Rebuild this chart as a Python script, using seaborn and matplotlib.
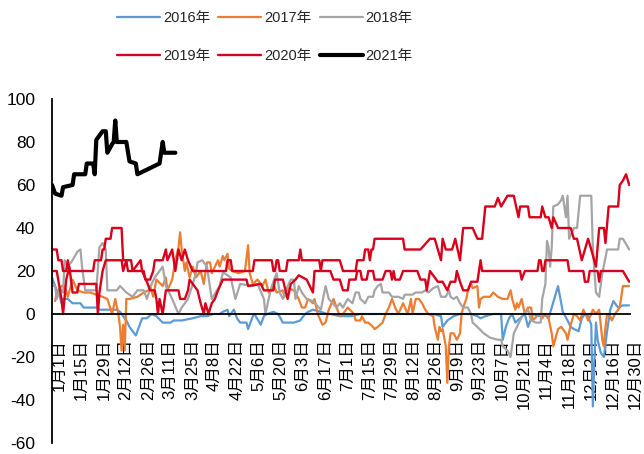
import matplotlib
matplotlib.use("Agg")
import matplotlib.pyplot as plt
import seaborn as sns
import pandas as pd

# ---------------- data (day of year, value) ----------------
tick_labels = ["1月1日", "1月15日", "1月29日", "2月12日", "2月26日", "3月11日", "3月25日",
               "4月8日", "4月22日", "5月6日", "5月20日", "6月3日", "6月17日", "7月1日",
               "7月15日", "7月29日", "8月12日", "8月26日", "9月9日", "9月23日", "10月7日",
               "10月21日", "11月4日", "11月18日", "12月2日", "12月16日", "12月30日"]
yticks = [-60, -40, -20, 0, 20, 40, 60, 80, 100]

d2016 = [0, 1, 3, 5, 6, 7, 10, 13, 18, 20, 29, 30, 41, 43, 45, 47, 49, 53, 54, 57, 60, 63, 66, 70,
         75, 77, 82, 89, 94, 98, 102, 106, 108, 111, 112, 115, 117, 119, 123, 124, 127, 128, 132,
         134, 136, 140, 143, 146, 151, 153, 157, 160, 162, 165, 170, 174, 176, 182, 189, 195, 201,
         212, 222, 233, 241, 246, 247, 250, 254, 258, 265, 269, 271, 274, 279, 284, 285, 287, 289,
         291, 293, 296, 299, 301, 303, 304, 308, 311, 314, 316, 320, 322, 323, 326, 328, 330, 333,
         335, 337, 339, 341, 342, 343, 344, 345, 347, 349, 350, 351, 353, 355, 358, 361, 365]
v2016 = [17, 15, 11, 8, 5, 7, 7, 5, 5, 3, 3, 2, 2, 1, -1, -3, -6, -10, -8, -2, -2, 0, -1, -4,
         -4, -3, -3, -2, -1, -1, 0, 0, 1, 2, -1, 2, -2, -4, -4, -7, -1, 0, -5,
         -1, 0, 1, 0, -4, -4, -4, -3, 0, 1, 2, 1, 0, 0, -1, -1, 0, 0,
         0, 0, 0, 0, -1, -6, -3, -1, 0, 0, -1, -2, -1, 0, 0, -12, -6, -2,
         0, -4, -2, 0, -6, -2, 0, -1, 0, -2, 3, 13, 5, 1, -3, -6, -7, -8,
         -2, 0, -1, -5, -43, -21, -4, -12, -18, -20, -14, -8, 2, 6, 3, 4, 4]

d2017 = [2, 3, 6, 8, 10, 13, 16, 20, 24, 28, 32, 35, 38, 40, 42, 43, 44, 45, 46, 47, 49, 54, 58,
         61, 62, 64, 66, 70, 72, 73, 76, 78, 80, 81, 82, 84, 85, 87, 89, 91, 94, 95, 96, 98, 100,
         101, 103, 105, 106, 108, 109, 111, 112, 114, 118, 122, 124, 125, 127, 130, 133, 135, 137,
         139, 140, 142, 146, 147, 149, 153, 156, 158, 160, 162, 165, 166, 168, 171, 173, 175, 178,
         180, 182, 184, 187, 191, 192, 195, 196, 198, 200, 203, 204, 206, 209, 211, 213, 215, 217,
         219, 222, 225, 227, 228, 230, 232, 234, 236, 238, 241, 242, 244, 245, 246, 247, 249, 250,
         251, 252, 254, 256, 258, 259, 260, 262, 263, 265, 266, 269, 270, 271, 273, 277, 279, 282,
         285, 288, 290, 291, 293, 294, 295, 297, 299, 301, 303, 304, 308, 310, 312, 314, 316, 317,
         320, 322, 325, 326, 328, 330, 332, 334, 336, 338, 339, 341, 342, 344, 346, 348, 349, 350,
         351, 353, 354, 356, 358, 359, 361, 365]
v2017 = [6, 10, 13, 13, 8, 16, 11, 10, 10, 9, 8, 7, 0, 7, 0, -6, -17, -5, -17, 7, 7, 8, 10,
         11, 13, 8, 16, 13, 17, 11, 16, 25, 31, 38, 30, 20, 24, 17, 22, 17, 20, 17, 14, 24, 24,
         19, 22, 25, 22, 27, 25, 28, 21, 20, 19, 20, 32, 19, 14, 16, 13, 16, 10,
         12, 14, 10, 11, 8, 12, 11, 7, 3, 3, 7, 5, 7, 0, -5, -4, 2, 7,
         3, -1, 0, 3, 0, -3, -3, -1, -4, -4, -6, -7, -6, -4, 0, 3, 7, 3,
         0, 5, 0, 7, 0, 7, 7, 5, 2, 0, -1, -6, -12, -6, -8, -7, -15, -32,
         -15, -9, -9, -12, -9, 0, 3, 7, 11, 14, 12, 13, 3, 7, 8, 8, 10, 8,
         7, 7, 11, 7, 2, 5, 3, 7, 0, 3, 3, -3, 0, -2, 0, -2, -9, -15,
         -7, -6, -9, -12, -5, 0, -1, -3, 2, -1, -3, 0, 2, 0, 2, -12, -15, -6,
         0, -1, -3, 0, 2, 3, 13, 13]

d2018 = [0, 2, 3, 5, 7, 8, 10, 13, 16, 18, 19, 21, 28, 30, 32, 34, 35, 41, 43, 47, 51, 54, 58, 60,
         63, 65, 67, 70, 72, 76, 80, 82, 86, 89, 91, 92, 95, 98, 101, 106, 108, 109, 113, 116, 119,
         127, 130, 134, 135, 137, 139, 142, 144, 146, 149, 151, 153, 154, 156, 158, 161, 165, 170,
         173, 175, 180, 182, 184, 187, 190, 192, 194, 195, 198, 200, 203, 204, 206, 208, 209, 213,
         215, 219, 222, 223, 228, 230, 234, 236, 238, 241, 244, 246, 249, 251, 252, 254, 256, 258,
         260, 263, 265, 266, 269, 273, 277, 282, 284, 285, 288, 290, 292, 294, 296, 298, 301, 303,
         306, 309, 310, 312, 313, 314, 315, 316, 317, 320, 322, 323, 325, 326, 327, 330, 332, 334,
         341, 342, 343, 344, 346, 348, 351, 354, 358, 359, 361, 365]
v2018 = [13, 13, 7, 12, 10, 25, 22, 25, 29, 30, 22, 11, 11, 31, 33, 30, 11, 11, 13, 10, 8, 11, 11, 7,
         14, 17, 19, 22, 13, 7, 0, 3, 7, 14, 19, 24, 25, 22, 7, 13, 19, 19, 17, 7, 14,
         13, 14, 7, 0, 7, 13, 19, 10, 7, 13, 16, 16, 7, 13, 10, 7, 6, 2,
         13, 7, 3, 5, 3, 7, 5, 10, 10, 7, 5, 8, 8, 11, 13, 14, 10, 10,
         8, 8, 7, 9, 9, 10, 10, 11, 10, 12, 13, 8, 8, 11, 8, 7, 8, 5,
         3, 3, 0, -4, -6, -9, -11, -12, -12, -15, -17, -20, -9, -6, -3, 0, 2, -3,
         -4, -4, 7, 14, 34, 31, 22, 31, 50, 51, 53, 55, 45, 55, 35, 40, 40, 55,
         55, 31, 20, 10, 8, 19, 30, 30, 30, 35, 35, 30]

d2019 = [0, 3, 4, 6, 7, 9, 10, 11, 26, 27, 31, 32, 33, 34, 37, 38, 44, 45, 47, 48, 58, 59, 62, 64,
         65, 70, 72, 73, 76, 78, 80, 82, 84, 86, 89, 110, 111, 113, 114, 127, 128, 139, 140, 141,
         142, 143, 144, 148, 149, 156, 157, 158, 169, 170, 171, 182, 184, 192, 193, 197, 198, 200,
         201, 202, 203, 204, 222, 223, 233, 239, 242, 246, 247, 249, 253, 255, 258, 260, 266, 269,
         272, 274, 280, 282, 284, 288, 292, 295, 296, 301, 302, 309, 310, 312, 314, 316, 317, 320,
         328, 330, 332, 335, 339, 341, 344, 346, 349, 350, 352, 358, 359, 361, 363, 365]
v2019 = [30, 30, 25, 25, 20, 20, 25, 20, 20, 25, 25, 30, 30, 35, 35, 40, 40, 25, 25, 20, 20, 16, 16, 20,
         25, 25, 30, 25, 30, 20, 30, 25, 30, 25, 20, 20, 25, 25, 20, 20, 25, 25, 20, 20,
         25, 25, 20, 20, 25, 25, 30, 25, 25, 20, 25, 25, 20, 20, 25, 25, 30, 30,
         25, 30, 30, 35, 35, 30, 30, 35, 35, 25, 35, 30, 30, 35, 25, 40, 40, 35,
         35, 50, 50, 54, 50, 55, 55, 45, 50, 50, 45, 45, 50, 45, 45, 40, 45, 40,
         40, 35, 35, 25, 35, 30, 22, 40, 40, 33, 50, 50, 60, 62, 65, 60]

d2020 = [0, 3, 6, 7, 9, 11, 13, 16, 17, 28, 29, 30, 32, 34, 44, 45, 47, 50, 51, 56, 57, 60, 62, 65,
         66, 67, 68, 70, 72, 75, 80, 81, 84, 86, 87, 92, 94, 96, 97, 99, 101, 103, 105, 108, 123,
         124, 132, 134, 140, 141, 146, 149, 151, 154, 156, 161, 163, 165, 166, 176, 178, 182, 184,
         187, 188, 192, 193, 195, 196, 199, 200, 203, 204, 209, 211, 214, 215, 216, 217, 220, 222,
         231, 233, 236, 237, 239, 244, 247, 250, 252, 255, 256, 258, 260, 263, 265, 269, 271, 272,
         296, 297, 299, 307, 308, 309, 310, 311, 312, 326, 327, 336, 337, 339, 340, 345, 346, 347,
         361, 365]
v2020 = [20, 20, 7, 0, 16, 22, 10, 10, 14, 14, 0, 10, 20, 25, 25, 20, 25, 25, 20, 25, 20, 15, 11, 11,
         7, 0, 7, 0, 11, 11, 11, 7, 7, 11, 16, 11, 5, 0, 5, 0, 5, 7, 11, 16, 16,
         13, 14, 11, 11, 16, 16, 7, 14, 16, 18, 16, 13, 10, 20, 20, 16, 16, 11,
         11, 16, 16, 20, 20, 16, 16, 20, 20, 16, 16, 20, 20, 16, 20, 16, 16, 20,
         20, 16, 16, 11, 20, 15, 15, 11, 15, 15, 20, 15, 11, 11, 15, 15, 25, 20,
         20, 16, 20, 20, 25, 25, 20, 20, 25, 25, 20, 20, 15, 15, 20, 20, 15, 20,
         20, 15]

d2021 = [0, 2, 6, 7, 13, 14, 21, 22, 26, 27, 28, 32, 34, 35, 38, 39, 40, 41, 47, 49, 53, 54, 68, 70,
         71, 78]
v2021 = [60, 56, 55, 59, 60, 65, 65, 70, 70, 65, 81, 85, 85, 75, 79, 80, 90, 80, 80, 71, 70, 65, 70, 80,
         75, 75]

series = [
    ("2016年", d2016, v2016, "#5B9BD5", 1.6),
    ("2017年", d2017, v2017, "#ED7D31", 1.6),
    ("2018年", d2018, v2018, "#A5A5A5", 1.6),
    ("2019年", d2019, v2019, "#D9001B", 1.7),
    ("2020年", d2020, v2020, "#D9001B", 1.7),
    ("2021年", d2021, v2021, "#000000", 3.0),
]

# ---------------- style ----------------
sns.set_theme(style="white")
plt.rcParams["font.family"] = ["Liberation Sans", "Noto Sans CJK SC", "DejaVu Sans"]
plt.rcParams["axes.unicode_minus"] = False

fig = plt.figure(figsize=(6.44, 4.54), dpi=100)
ax = fig.add_axes([52 / 644, 1 - 443 / 454, (630 - 52) / 644, (443 - 99) / 454])

for name, d, v, c, lw in series:
    df = pd.DataFrame({"day": d, "value": v})
    sns.lineplot(data=df, x="day", y="value", ax=ax, color=c, linewidth=lw,
                 label=name, sort=False, estimator=None)

ax.set_xlim(0, 365.5)
ax.set_ylim(-60, 100)
ax.set_xlabel("")
ax.set_ylabel("")

ax.spines["top"].set_visible(False)
ax.spines["right"].set_visible(False)
ax.spines["bottom"].set_position(("data", 0))
for s in ("left", "bottom"):
    ax.spines[s].set_color("black")
    ax.spines[s].set_linewidth(1.3)

ax.set_yticks(yticks)
ax.set_yticklabels([str(t) for t in yticks])
ax.tick_params(axis="y", direction="in", length=4, width=1.2, color="black",
               labelsize=12.5, pad=12, labelcolor="black")

ax.set_xticks(list(range(0, 365, 14)))
ax.set_xticklabels(tick_labels, rotation=90, ha="left", va="top")
ax.tick_params(axis="x", length=0, labelsize=12, pad=18, labelcolor="black")

handles, labels = ax.get_legend_handles_labels()
ax.get_legend().remove()
order = [0, 3, 1, 4, 2, 5]  # fill rows left-to-right
fig.legend([handles[i] for i in order], [labels[i] for i in order],
           loc="upper center", bbox_to_anchor=(265 / 644, 1 - 11 / 454),
           ncol=3, frameon=False, fontsize=10.5, handlelength=2.95, handletextpad=0.2,
           columnspacing=0.55, labelspacing=1.62, borderpad=0, borderaxespad=0)

fig.savefig("out.png", dpi=100)
